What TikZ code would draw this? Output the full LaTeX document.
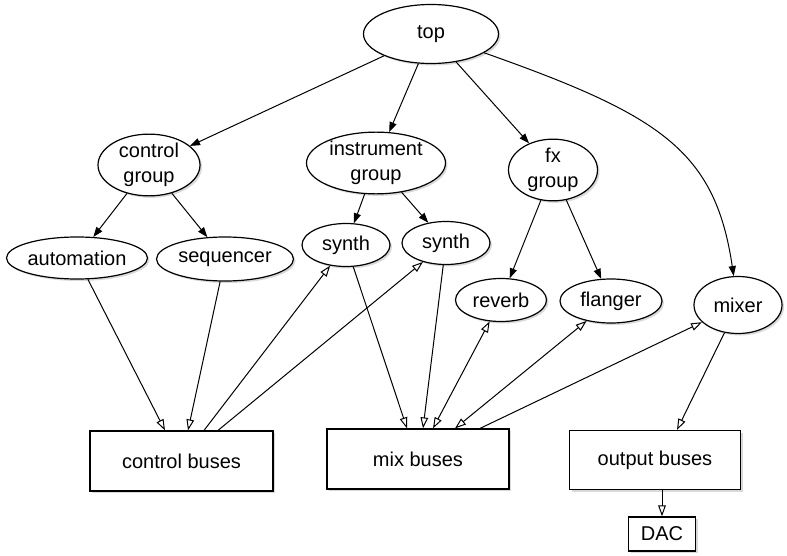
\documentclass[tikz,border=0pt]{standalone}
\usepackage{fontspec}
\setmainfont{Liberation Sans}
\usetikzlibrary{shapes.geometric,arrows.meta,shadows}

\tikzset{
  grp/.style={ellipse, draw, fill=white, inner sep=0pt, align=center, line width=0.6pt,
    drop shadow={shadow xshift=1pt, shadow yshift=-1pt, opacity=0.3}},
  bus/.style={rectangle, draw, fill=white, inner sep=0pt, line width=0.6pt,
    drop shadow={shadow xshift=1pt, shadow yshift=-1pt, opacity=0.3}},
  tree/.style={-{Triangle[length=5pt,width=3.6pt]}, line width=0.5pt},
  flow/.style={-{Triangle[open,length=5.5pt,width=3.8pt]}, line width=0.5pt},
  both/.style={{Triangle[open,length=5.5pt,width=3.8pt]}-{Triangle[open,length=5.5pt,width=3.8pt]}, line width=0.5pt}
}

\begin{document}
\begin{tikzpicture}[x=0.5pt, y=-0.5pt, font=\fontsize{10}{12.5}\selectfont]
        \useasboundingbox (0,0) rectangle (787,556);

        \node[grp, minimum width=67.5pt, minimum height=29.5pt] (top) at (431,34) {top};

        \node[grp, minimum width=51pt, minimum height=29pt] (control-group)
             at (149,165) {control\\group};
        \node[grp, minimum width=69.5pt, minimum height=28.5pt] (instrument-group)
             at (376,163) {instrument\\group};
        \node[grp, minimum width=44.5pt, minimum height=28pt] (fx-group)
             at (553,170) {fx\\group};

        \node[grp, minimum width=70.5pt, minimum height=21pt] (automation)
             at (77,258) {automation};
        \node[grp, minimum width=68.5pt, minimum height=22pt] (sequencer)
             at (225,259) {sequencer};
        \node[grp, minimum width=44pt, minimum height=21.5pt] (synth-a)
             at (346,245) {synth};
        \node[grp, minimum width=44pt, minimum height=21.5pt] (synth-b)
             at (446,243) {synth};
        \node[grp, minimum width=45.5pt, minimum height=21.5pt] (reverb)
             at (501,300) {reverb};
        \node[grp, minimum width=51pt, minimum height=22pt] (flanger)
             at (611,301) {flanger};
        \node[grp, minimum width=44pt, minimum height=28.5pt] (mixer)
             at (738,305) {mixer};

        \node[bus, minimum width=91.5pt, minimum height=30pt] (control-buses)
             at (181.5,461) {control buses};
        \node[bus, minimum width=91pt, minimum height=30pt] (mix-buses)
             at (418,459) {mix buses};
        \node[bus, minimum width=85.5pt, minimum height=29.5pt] (output-buses)
             at (655,460) {output buses};
        \node[bus, minimum width=33.5pt, minimum height=17pt] (dac)
             at (662,534) {DAC};

        % tree
        \draw[tree] (top) -- (control-group);
        \draw[tree] (top) -- (instrument-group);
        \draw[tree] (top) -- (fx-group);
        \draw[tree] (top) .. controls (660,115) and (715,150) .. (mixer);
        \draw[tree] (control-group) -- (automation);
        \draw[tree] (control-group) -- (sequencer);
        \draw[tree] (instrument-group) -- (synth-a);
        \draw[tree] (instrument-group) -- (synth-b);
        \draw[tree] (fx-group) -- (reverb);
        \draw[tree] (fx-group) -- (flanger);

        % buses
        \draw[flow] (automation) -- ([xshift=-8.25pt]control-buses.north);
        \draw[flow] (sequencer) -- ([xshift=3.25pt]control-buses.north);
        \draw[flow] ([xshift=11.25pt]control-buses.north) -- (synth-a);
        \draw[flow] ([xshift=18.25pt]control-buses.north) -- (synth-b);
        \draw[flow] (synth-a) -- ([xshift=-5.5pt]mix-buses.north);
        \draw[flow] (synth-b) -- ([xshift=2.5pt]mix-buses.north);
        \draw[both] (reverb) -- ([xshift=7.5pt]mix-buses.north);
        \draw[both] (flanger) -- ([xshift=18.5pt]mix-buses.north);
        \draw[flow] ([xshift=31pt]mix-buses.north) -- (mixer);
        \draw[flow] (mixer) -- ([xshift=11pt]output-buses.north);
        \draw[flow] (output-buses.south -| dac) -- (dac);
\end{tikzpicture}
\end{document}
